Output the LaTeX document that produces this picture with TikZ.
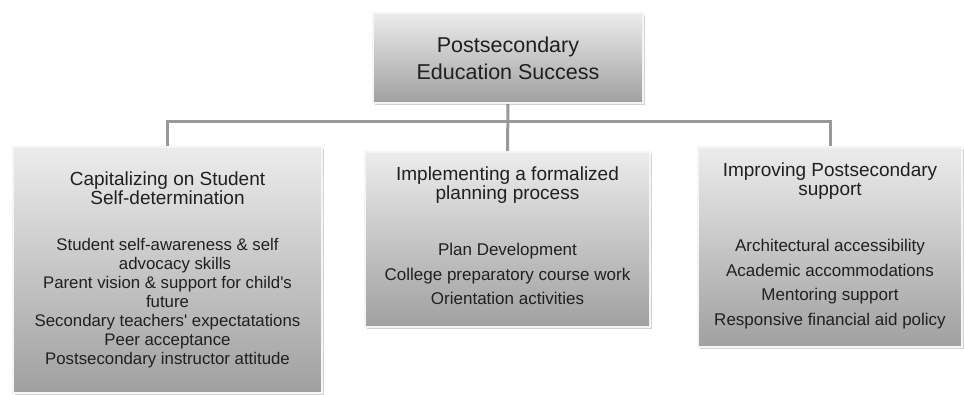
\documentclass[tikz,border=0pt]{standalone}
\usepackage{fontspec}
\setmainfont{Liberation Sans}
\usetikzlibrary{positioning,shadows,backgrounds}
\definecolor{boxtop}{HTML}{ECECEC}
\definecolor{boxbot}{HTML}{A0A0A0}
\definecolor{inkgray}{HTML}{202020}

\begin{document}
\begin{tikzpicture}[x=1pt,y=1pt,
    box/.style={rectangle,draw=white!92!gray,line width=1.2pt,
                top color=boxtop,bottom color=boxbot,
                drop shadow={shadow xshift=1.5pt,shadow yshift=-2pt,opacity=0.35}},
    head/.style={align=center,text=inkgray,inner sep=0pt,
                 font=\fontsize{19}{19.5}\selectfont},
    items/.style={align=center,text=inkgray,inner sep=0pt,
                  font=\fontsize{17}{24.5}\selectfont},
    link/.style={draw=gray!80,line width=3pt}]
  \useasboundingbox (0,0) rectangle (964,394);

  % goal at the top
  \node[box,minimum width=270,minimum height=90,align=center,text=inkgray,
        font=\fontsize{21.5}{27}\selectfont] (goal) at (508,336)
       {Postsecondary\\Education Success};

  % the three branches
  \node[box,minimum width=309,minimum height=246] (self) at (167.5,124) {};
  \node[box,minimum width=285,minimum height=175] (plan) at (507.5,154.5) {};
  \node[box,minimum width=264,minimum height=200] (supp) at (830,147) {};

  \node[head,below=25 of self.north] (selfhead)
       {Capitalizing on Student\\Self-determination};
  \node[items,font=\fontsize{16.8}{19}\selectfont,below=33 of selfhead] (selfitems)
       {Student self-awareness \& self\\
        \hspace*{15pt}advocacy skills\\
        Parent vision \& support for child\textquotesingle s\\
        future\\
        Secondary teachers\textquotesingle\ expectatations\\
        Peer acceptance\\
        Postsecondary instructor attitude};

  \node[head,below=15 of plan.north] (planhead)
       {Implementing a formalized\\planning process};
  \node[items,below=39 of planhead] (planitems)
       {Plan Development\\
        College preparatory course work\\
        Orientation activities};

  \node[head,below=16 of supp.north] (supphead)
       {Improving Postsecondary\\support};
  \node[items,below=39 of supphead] (suppitems)
       {Architectural accessibility\\
        Academic accommodations\\
        Mentoring support\\
        Responsive financial aid policy};

  % connectors
  \coordinate (bus) at (508,272);
  \begin{scope}[on background layer]
    \draw[link] (goal.south) -- (plan.north);
    \draw[link] (self.north) |- (bus) -| (supp.north);
  \end{scope}
\end{tikzpicture}
\end{document}
